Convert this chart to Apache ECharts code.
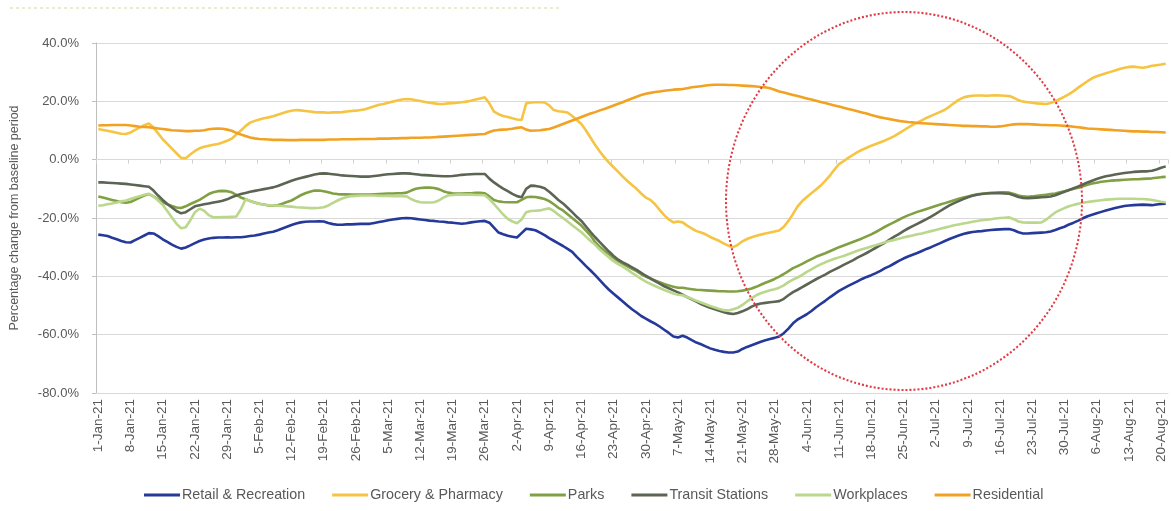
<!DOCTYPE html>
<html>
<head>
<meta charset="utf-8">
<script src="https://cdn.jsdelivr.net/npm/echarts@6/dist/echarts.min.js"></script>
<style>
  html, body { margin: 0; padding: 0; background: #ffffff; }
  #chart { width: 1171px; height: 511px; }
</style>
</head>
<body>
<div id="chart"></div>
<script>
// Daily mobility change vs. baseline, 1 Jan 2021 – 21 Aug 2021 (percent)
const monthNames = ['Jan', 'Feb', 'Mar', 'Apr', 'May', 'Jun', 'Jul', 'Aug'];
const monthDays = [31, 28, 31, 30, 31, 30, 31, 21];

// Date labels, e.g. "1-Jan-21"
const dates = [];
monthNames.forEach((m, i) => {
  for (let d = 1; d <= monthDays[i]; d++) dates.push(d + '-' + m + '-21');
});

const yTicks = { min: -80, max: 40, step: 20 };

const seriesNames = ['Retail & Recreation', 'Grocery & Pharmacy', 'Parks', 'Transit Stations', 'Workplaces', 'Residential'];

const retail = [
  -25.7,-25.9,-26.2,-26.8,-27.3,-27.9,-28.3,-28.4,-27.6,-26.8,-26.0,-25.2,-25.3,-26.2,-27.3,-28.2,-29.1,-29.9,-30.5,-30.1,-29.4,-28.6,-27.9,-27.4,-27.0,-26.8,-26.7,-26.7,-26.6,-26.7,-26.6,
  -26.6,-26.4,-26.2,-26.0,-25.7,-25.3,-25.0,-24.7,-24.2,-23.6,-23.0,-22.4,-21.9,-21.5,-21.3,-21.2,-21.2,-21.1,-21.2,-21.7,-22.1,-22.3,-22.3,-22.2,-22.2,-22.1,-22.0,-22.0,
  -22.0,-21.7,-21.4,-21.1,-20.8,-20.5,-20.3,-20.1,-20.0,-20.1,-20.3,-20.5,-20.7,-20.9,-21.0,-21.2,-21.3,-21.5,-21.6,-21.8,-22.0,-21.8,-21.5,-21.3,-21.1,-21.0,-21.6,-23.3,-25.0,-25.6,-26.1,
  -26.4,-26.7,-25.2,-23.7,-23.9,-24.2,-25.0,-25.9,-26.9,-27.8,-28.7,-29.6,-30.6,-31.6,-33.3,-34.9,-36.5,-38.0,-39.6,-41.3,-43.0,-44.6,-46.0,-47.3,-48.6,-50.0,-51.3,-52.4,-53.6,-54.5,
  -55.4,-56.2,-57.2,-58.3,-59.4,-60.6,-61.0,-60.4,-61.0,-61.9,-62.7,-63.3,-64.0,-64.7,-65.2,-65.6,-65.9,-66.1,-66.1,-65.8,-64.9,-64.2,-63.6,-63.0,-62.4,-61.9,-61.5,-61.1,-60.6,-59.5,-57.9,
  -56.1,-54.8,-53.9,-53.0,-51.9,-50.6,-49.5,-48.4,-47.2,-46.1,-45.0,-44.1,-43.3,-42.5,-41.7,-40.9,-40.2,-39.6,-38.9,-38.1,-37.2,-36.5,-35.6,-34.7,-33.9,-33.2,-32.6,-32.0,-31.3,-30.6,
  -30.0,-29.3,-28.6,-27.9,-27.2,-26.6,-26.0,-25.5,-25.1,-24.8,-24.6,-24.5,-24.3,-24.1,-24.0,-23.9,-23.8,-23.8,-24.2,-24.9,-25.3,-25.3,-25.2,-25.1,-25.0,-24.9,-24.6,-24.1,-23.5,-23.0,-22.2,
  -21.6,-20.9,-20.1,-19.4,-18.9,-18.4,-17.9,-17.4,-17.0,-16.6,-16.2,-15.9,-15.7,-15.6,-15.5,-15.4,-15.5,-15.6,-15.4,-15.2,-15.1
];

const grocery = [
  10.5,10.2,9.9,9.6,9.2,8.9,8.8,9.3,10.2,11.0,11.8,12.4,11.0,9.0,7.0,5.4,3.8,2.2,0.6,0.5,1.8,3.0,3.9,4.4,4.8,5.1,5.4,5.9,6.5,7.2,8.6,
  10.0,11.5,12.7,13.3,13.8,14.2,14.5,14.9,15.4,15.9,16.4,16.8,17.0,16.9,16.7,16.5,16.3,16.2,16.2,16.1,16.2,16.2,16.3,16.5,16.7,16.8,17.0,17.3,
  17.8,18.3,18.8,19.1,19.5,19.9,20.3,20.6,20.8,20.7,20.4,20.1,19.8,19.5,19.3,19.1,19.1,19.3,19.4,19.5,19.7,19.9,20.2,20.6,21.0,21.4,19.3,16.5,15.6,15.0,14.6,
  14.2,13.8,13.6,19.3,19.6,19.7,19.7,19.6,18.6,17.0,16.6,16.4,16.2,15.0,13.6,12.2,10.0,7.5,5.0,2.8,0.8,-1.0,-2.6,-4.2,-5.8,-7.3,-8.7,-10.0,-11.6,-13.0,
  -13.8,-15.3,-17.2,-19.0,-20.5,-21.5,-21.2,-21.5,-22.6,-23.6,-24.5,-25.0,-25.6,-26.5,-27.2,-27.9,-28.8,-29.5,-30.0,-29.2,-28.0,-27.2,-26.6,-26.1,-25.7,-25.3,-25.0,-24.6,-24.3,-23.0,-21.0,
  -18.6,-16.0,-14.2,-12.8,-11.5,-10.2,-8.9,-7.3,-5.5,-3.4,-1.5,-0.5,0.6,1.6,2.6,3.4,4.1,4.8,5.4,6.0,6.6,7.3,8.1,9.0,10.0,11.0,11.9,12.7,13.5,14.3,
  15.0,15.7,16.4,17.1,18.2,19.4,20.5,21.3,21.7,21.9,22.0,22.0,21.9,22.0,22.1,22.0,21.9,21.8,21.2,20.4,19.9,19.7,19.5,19.3,19.2,19.1,19.4,20.0,20.8,21.6,22.5,
  23.5,24.7,25.8,26.9,27.9,28.6,29.1,29.6,30.1,30.6,31.1,31.5,31.8,31.9,31.7,31.5,31.8,32.2,32.4,32.6,32.9
];

const parks = [
  -12.6,-13.0,-13.4,-13.8,-14.2,-14.6,-14.8,-14.5,-13.8,-13.0,-12.3,-11.8,-12.6,-13.6,-14.6,-15.3,-15.9,-16.4,-16.6,-16.0,-15.2,-14.5,-13.8,-12.8,-11.8,-11.2,-10.8,-10.7,-10.8,-11.2,-12.1,
  -13.0,-13.6,-14.2,-14.7,-15.1,-15.4,-15.7,-15.8,-15.6,-15.1,-14.5,-14.0,-13.1,-12.2,-11.5,-11.0,-10.6,-10.6,-10.8,-11.2,-11.6,-11.8,-11.9,-11.9,-12.0,-12.0,-12.0,-12.0,
  -12.0,-11.9,-11.8,-11.7,-11.6,-11.6,-11.5,-11.5,-11.3,-10.6,-10.0,-9.7,-9.6,-9.6,-9.7,-10.1,-10.8,-11.3,-11.5,-11.6,-11.6,-11.5,-11.5,-11.4,-11.4,-11.5,-12.6,-13.8,-14.3,-14.5,-14.6,
  -14.6,-14.6,-13.8,-12.9,-12.7,-12.8,-13.1,-13.5,-14.2,-15.3,-16.5,-17.4,-18.7,-20.0,-21.3,-22.6,-24.3,-26.0,-28.3,-29.9,-31.2,-32.4,-33.7,-34.8,-35.7,-36.6,-37.4,-38.2,-39.3,-40.1,
  -40.8,-41.4,-42.0,-42.6,-43.1,-43.6,-43.9,-43.9,-44.2,-44.4,-44.6,-44.7,-44.8,-44.9,-45.0,-45.1,-45.1,-45.2,-45.2,-45.1,-44.9,-44.6,-44.2,-43.6,-42.9,-42.2,-41.6,-40.9,-40.1,-39.2,-38.2,
  -37.2,-36.5,-35.7,-34.9,-34.1,-33.3,-32.7,-32.1,-31.4,-30.7,-30.0,-29.4,-28.8,-28.2,-27.6,-27.0,-26.3,-25.6,-24.8,-23.9,-23.0,-22.2,-21.4,-20.6,-19.8,-19.1,-18.5,-17.9,-17.4,-16.9,
  -16.4,-15.9,-15.4,-14.9,-14.4,-13.9,-13.4,-13.0,-12.6,-12.2,-11.9,-11.7,-11.5,-11.4,-11.3,-11.2,-11.2,-11.3,-11.8,-12.3,-12.6,-12.7,-12.6,-12.4,-12.2,-12.0,-11.8,-11.6,-11.2,-10.8,-10.4,
  -10.0,-9.6,-9.1,-8.6,-8.2,-7.9,-7.6,-7.4,-7.2,-7.1,-7.0,-6.9,-6.8,-6.7,-6.7,-6.6,-6.5,-6.4,-6.2,-6.0,-5.9
];

const transit = [
  -7.8,-7.8,-7.9,-8.0,-8.1,-8.2,-8.3,-8.5,-8.7,-8.9,-9.1,-9.3,-10.6,-12.3,-13.8,-15.2,-16.4,-17.6,-18.4,-18.0,-17.0,-16.0,-15.6,-15.3,-15.0,-14.7,-14.4,-14.1,-13.6,-12.9,-12.3,
  -11.8,-11.4,-11.0,-10.7,-10.4,-10.1,-9.8,-9.5,-9.0,-8.4,-7.8,-7.2,-6.7,-6.3,-5.9,-5.5,-5.1,-4.8,-4.7,-4.8,-5.0,-5.2,-5.4,-5.5,-5.6,-5.7,-5.8,-5.8,
  -5.8,-5.6,-5.4,-5.2,-5.0,-4.9,-4.8,-4.7,-4.7,-4.8,-5.0,-5.2,-5.3,-5.4,-5.5,-5.6,-5.7,-5.7,-5.6,-5.4,-5.2,-5.1,-5.0,-4.9,-4.9,-4.9,-6.5,-7.8,-8.9,-9.9,-10.8,
  -11.7,-12.5,-12.9,-10.0,-8.9,-9.0,-9.3,-9.8,-11.0,-12.4,-13.8,-15.0,-16.5,-18.0,-19.6,-21.0,-22.9,-24.8,-26.6,-28.3,-29.9,-31.5,-33.0,-34.3,-35.2,-36.0,-36.9,-37.8,-38.8,-39.8,
  -40.7,-41.6,-42.5,-43.4,-44.1,-44.8,-45.5,-46.3,-47.1,-47.9,-48.7,-49.5,-50.2,-50.8,-51.3,-51.8,-52.3,-52.7,-52.9,-52.6,-52.0,-51.3,-50.4,-49.7,-49.3,-49.1,-48.9,-48.7,-48.5,-47.7,-46.5,
  -45.4,-44.6,-43.7,-42.8,-41.9,-41.0,-40.2,-39.4,-38.5,-37.7,-36.9,-36.1,-35.3,-34.5,-33.6,-32.8,-32.0,-31.1,-30.2,-29.3,-28.4,-27.4,-26.4,-25.5,-24.5,-23.6,-22.8,-22.0,-21.2,-20.4,
  -19.5,-18.6,-17.6,-16.6,-15.7,-14.9,-14.2,-13.5,-12.9,-12.4,-12.0,-11.8,-11.6,-11.5,-11.5,-11.5,-11.6,-11.7,-12.2,-12.8,-13.1,-13.2,-13.1,-13.0,-12.9,-12.8,-12.6,-12.2,-11.6,-11.0,-10.4,
  -9.8,-9.2,-8.5,-7.8,-7.2,-6.6,-6.1,-5.7,-5.4,-5.1,-4.8,-4.6,-4.4,-4.2,-4.1,-4.0,-4.0,-3.8,-3.4,-2.8,-2.3
];

const workplaces = [
  -15.8,-15.6,-15.3,-15.0,-14.7,-14.3,-14.0,-13.5,-13.0,-12.5,-12.0,-11.7,-12.6,-14.0,-15.5,-17.6,-19.8,-22.0,-23.5,-23.2,-20.8,-18.0,-16.8,-17.5,-19.0,-19.8,-19.8,-19.7,-19.7,-19.6,-19.5,
  -17.0,-13.6,-14.2,-14.8,-15.2,-15.4,-15.6,-15.7,-15.8,-15.9,-16.0,-16.1,-16.3,-16.4,-16.5,-16.6,-16.6,-16.5,-16.3,-15.7,-14.8,-14.0,-13.3,-12.8,-12.5,-12.4,-12.3,-12.3,
  -12.3,-12.3,-12.4,-12.4,-12.4,-12.5,-12.5,-12.5,-12.6,-13.5,-14.2,-14.6,-14.7,-14.7,-14.6,-14.0,-13.0,-12.3,-12.1,-12.0,-12.0,-12.0,-12.0,-12.1,-12.1,-12.2,-13.5,-15.2,-17.0,-18.8,-20.3,
  -21.2,-21.8,-20.5,-18.0,-17.6,-17.5,-17.4,-17.0,-16.7,-17.6,-18.9,-20.0,-21.2,-22.5,-23.7,-24.9,-26.4,-27.9,-29.2,-30.8,-32.2,-33.5,-34.8,-35.8,-36.7,-37.7,-38.8,-39.8,-40.9,-41.8,
  -42.6,-43.3,-44.0,-44.7,-45.3,-45.9,-46.3,-46.5,-47.1,-47.7,-48.4,-49.0,-49.6,-50.2,-50.7,-51.2,-51.6,-51.7,-51.3,-50.8,-49.8,-48.6,-47.5,-46.5,-45.8,-45.3,-44.8,-44.4,-43.9,-43.1,-42.0,
  -41.1,-40.4,-39.5,-38.5,-37.6,-36.7,-35.9,-35.2,-34.6,-34.0,-33.5,-33.0,-32.4,-31.8,-31.2,-30.7,-30.3,-29.8,-29.3,-28.8,-28.3,-27.9,-27.5,-27.1,-26.7,-26.3,-26.0,-25.6,-25.3,-24.9,
  -24.5,-24.1,-23.7,-23.3,-22.9,-22.5,-22.2,-21.9,-21.6,-21.3,-21.0,-20.8,-20.6,-20.4,-20.2,-20.0,-19.9,-19.8,-20.4,-21.2,-21.5,-21.6,-21.6,-21.6,-21.5,-20.6,-19.3,-18.1,-17.3,-16.6,-16.0,
  -15.5,-15.1,-14.8,-14.5,-14.3,-14.1,-13.9,-13.7,-13.6,-13.5,-13.4,-13.4,-13.4,-13.4,-13.5,-13.5,-13.6,-13.8,-14.1,-14.4,-14.6
];

const residential = [
  11.7,11.8,11.8,11.9,11.9,11.9,11.9,11.7,11.5,11.3,11.2,11.1,10.9,10.7,10.5,10.3,10.1,10.0,9.9,9.8,9.8,9.9,9.9,10.1,10.4,10.6,10.7,10.6,10.3,9.9,9.2,
  8.6,8.1,7.6,7.3,7.1,7.0,6.9,6.8,6.8,6.8,6.7,6.7,6.7,6.8,6.8,6.8,6.8,6.8,6.8,6.9,6.9,6.9,7.0,7.0,7.0,7.0,7.1,7.1,
  7.1,7.1,7.2,7.2,7.2,7.3,7.3,7.4,7.4,7.5,7.5,7.5,7.6,7.6,7.7,7.8,7.9,8.0,8.1,8.2,8.3,8.4,8.5,8.6,8.7,8.8,9.5,10.0,10.2,10.3,10.4,
  10.6,10.9,11.1,10.3,9.9,10.0,10.1,10.3,10.5,11.0,11.6,12.2,12.8,13.4,14.0,14.6,15.2,15.8,16.3,16.9,17.4,18.0,18.6,19.2,19.7,20.4,21.0,21.6,22.2,22.6,
  22.9,23.2,23.4,23.6,23.8,24.0,24.1,24.2,24.5,24.8,25.0,25.2,25.4,25.6,25.7,25.7,25.7,25.6,25.6,25.5,25.4,25.3,25.2,25.1,24.9,24.8,24.5,24.0,23.4,23.0,22.6,
  22.2,21.8,21.4,21.0,20.6,20.2,19.8,19.4,19.0,18.6,18.2,17.8,17.4,17.0,16.6,16.2,15.8,15.3,14.9,14.5,14.2,13.9,13.6,13.3,13.1,12.9,12.8,12.6,12.5,12.4,
  12.3,12.2,12.1,12.0,11.9,11.8,11.7,11.6,11.6,11.5,11.5,11.4,11.4,11.3,11.3,11.4,11.6,11.9,12.1,12.2,12.2,12.2,12.1,12.0,11.9,11.9,11.8,11.8,11.7,11.6,11.5,
  11.3,11.1,10.9,10.7,10.6,10.5,10.4,10.3,10.2,10.1,10.0,9.9,9.8,9.7,9.7,9.6,9.6,9.5,9.5,9.4,9.3
];

const seriesValues = [retail, grocery, parks, transit, workplaces, residential];
const seriesColors = ['#24399a', '#f6c443', '#80a043', '#5c6553', '#bad78c', '#f2a222'];

const textColor = '#595959';
const font = 'Liberation Sans';

const chart = echarts.init(document.getElementById('chart'), null, { renderer: 'canvas' });

chart.setOption({
  backgroundColor: '#ffffff',
  animation: false,
  textStyle: { fontFamily: font },
  grid: { left: 88, right: 3, top: 43, bottom: 118, containLabel: false },
  legend: {
    data: seriesNames,
    left: 139,
    top: 483,
    icon: 'rect',
    itemWidth: 36,
    itemHeight: 3,
    itemGap: 27,
    textStyle: { color: textColor, fontSize: 14.3, fontFamily: font, padding: [0, 0, 0, -3] }
  },
  xAxis: [
    {
      type: 'category',
      data: dates,
      boundaryGap: true,
      axisLine: { show: true, onZero: false, lineStyle: { color: '#d9d9d9', width: 1 } },
      axisTick: { show: false },
      axisLabel: {
        interval: 6,
        rotate: 90,
        margin: 6,
        color: textColor,
        fontSize: 13.5,
        fontFamily: font
      },
      splitLine: { show: false }
    },
    {
      // tick marks along the zero line
      type: 'category',
      data: dates,
      boundaryGap: true,
      position: 'bottom',
      axisLine: { show: true, onZero: true, lineStyle: { color: '#d9d9d9', width: 1 } },
      axisTick: { show: true, interval: 6, length: 4, lineStyle: { color: '#d0d0d0' } },
      axisLabel: { show: false },
      splitLine: { show: false }
    }
  ],
  yAxis: {
    type: 'value',
    min: yTicks.min,
    max: yTicks.max,
    interval: yTicks.step,
    name: 'Percentage change from baseline period',
    nameLocation: 'middle',
    nameGap: 75,
    nameTextStyle: { color: textColor, fontSize: 12.5, fontFamily: font },
    axisLine: { show: true, lineStyle: { color: '#bfbfbf', width: 1 } },
    axisTick: { show: true, length: 4, lineStyle: { color: '#bfbfbf' } },
    axisLabel: {
      color: textColor,
      fontSize: 13,
      fontFamily: font,
      margin: 17,
      formatter: v => v.toFixed(1) + '%'
    },
    splitLine: { show: true, lineStyle: { color: '#d9d9d9', width: 1 } }
  },
  series: seriesNames.map((name, i) => ({
    name: name,
    type: 'line',
    xAxisIndex: 0,
    data: seriesValues[i],
    showSymbol: false,
    symbol: 'none',
    smooth: false,
    lineStyle: { color: seriesColors[i], width: 2.6 },
    itemStyle: { color: seriesColors[i] },
    z: 2 + i
  })),
  graphic: [
    {
      // faint dotted rule along the top edge
      type: 'line',
      shape: { x1: 10, y1: 8, x2: 560, y2: 8 },
      style: { stroke: '#ecebd2', lineWidth: 2, lineDash: [3, 3] },
      silent: true
    },
    {
      // red dotted highlight ring
      type: 'circle',
      x: 904,
      y: 201,
      scaleY: 189 / 178,
      shape: { cx: 0, cy: 0, r: 178 },
      style: { fill: 'none', stroke: '#e23a44', lineWidth: 2, lineDash: [2, 2] },
      silent: true,
      z: 100
    }
  ]
});
</script>
</body>
</html>
